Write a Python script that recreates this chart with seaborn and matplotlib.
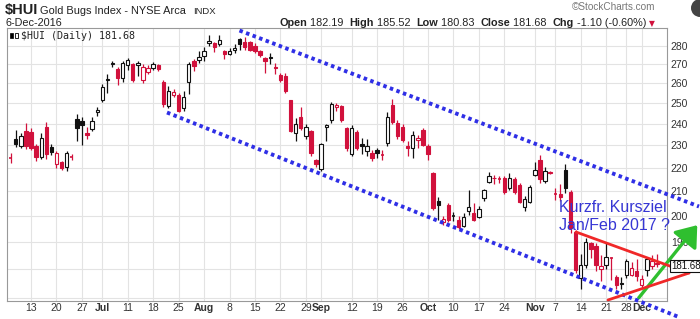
import matplotlib
matplotlib.use("Agg")
import matplotlib.pyplot as plt
import seaborn as sns
import numpy as np
import pandas as pd
from matplotlib.patches import Rectangle, FancyArrowPatch, Ellipse
from matplotlib.lines import Line2D
from matplotlib.ticker import FixedLocator, NullLocator, NullFormatter

# ---------------- data ----------------
start_date = "2016-06-07"
end_date = "2016-12-06"
holidays = ["2016-07-04", "2016-09-05", "2016-11-24"]

opens = [224.6, 233.1, 229.9, 236.5, 236.0, 229.5, 224.8, 238.5, 229.4, 221.5,
         222.5, 220.2, 225.0, 242.5, 241.5, 235.5, 237.5, 245.5, 251.8, 262.0,
         270.0, 267.5, 263.0, 269.5, 270.0, 269.5, 262.0, 266.0, 268.0, 269.5,
         261.0, 248.5, 254.0, 254.0, 247.5, 260.5, 272.0, 272.5, 274.5, 281.5,
         281.5, 281.0, 277.5, 275.5, 278.0, 284.0, 282.5, 282.0, 280.0, 277.0,
         273.5, 274.0, 268.5, 264.5, 264.0, 251.5, 235.5, 243.5, 234.5, 236.5,
         223.5, 219.7, 238.5, 242.0, 248.0, 248.5, 238.0, 226.0, 236.0, 230.8,
         227.5, 226.5, 228.0, 226.0, 231.0, 249.0, 240.5, 238.5, 229.5, 229.0,
         232.5, 237.0, 229.8, 217.8, 206.0, 197.5, 204.4, 200.2, 198.4, 196.0,
         201.8, 201.2, 199.6, 207.2, 213.8, 215.8, 215.2, 215.8, 211.5, 215.2,
         212.5, 203.5, 205.6, 216.8, 223.3, 214.5, 218.2, 209.0, 209.0, 219.2,
         209.8, 193.8, 177.0, 181.5, 189.5, 188.5, 180.0, 181.5, 184.2, 177.2,
         175.2, 178.0, 178.0, 179.3, 174.5, 179.6, 181.0, 182.19]
highs = [226.6, 237.2, 235.5, 240.2, 238.0, 230.5, 235.8, 241.0, 230.5, 227.5,
         223.0, 227.5, 226.0, 244.5, 243.5, 238.5, 243.5, 248.0, 259.5, 265.0,
         272.0, 268.5, 272.0, 273.5, 271.0, 272.0, 270.0, 269.5, 271.5, 270.0,
         262.0, 258.5, 257.0, 255.0, 256.0, 271.5, 273.0, 277.5, 279.5, 286.0,
         282.5, 286.0, 278.0, 279.0, 281.0, 284.5, 285.0, 283.0, 281.5, 278.0,
         274.0, 276.0, 271.0, 265.5, 265.5, 251.8, 243.0, 248.0, 240.0, 237.0,
         224.0, 231.0, 240.0, 250.5, 250.0, 249.0, 238.5, 239.5, 237.0, 233.5,
         233.0, 228.0, 229.0, 228.0, 245.5, 252.0, 242.0, 240.0, 232.0, 236.5,
         235.0, 238.0, 230.5, 218.0, 207.5, 200.0, 205.0, 201.5, 200.0, 201.0,
         210.5, 205.0, 204.0, 211.0, 218.3, 217.0, 216.5, 216.5, 217.8, 216.0,
         213.5, 208.0, 212.5, 222.6, 225.5, 220.5, 218.6, 211.5, 213.0, 221.5,
         210.5, 194.5, 185.4, 191.5, 190.0, 189.5, 185.0, 190.0, 184.5, 178.0,
         177.2, 183.8, 182.5, 183.5, 178.0, 184.0, 185.0, 185.52]
lows = [222.0, 229.2, 229.0, 228.5, 228.0, 222.8, 223.7, 224.0, 225.5, 220.0,
        219.0, 218.5, 223.5, 232.0, 230.0, 233.0, 236.5, 244.0, 250.5, 255.0,
        268.5, 259.0, 260.5, 267.0, 261.0, 264.0, 260.0, 265.0, 267.0, 266.5,
        248.0, 247.5, 253.0, 245.5, 246.0, 254.5, 266.5, 271.0, 272.0, 280.0,
        276.5, 280.0, 273.0, 275.0, 276.0, 278.0, 278.0, 277.5, 276.0, 274.0,
        265.5, 270.0, 265.0, 261.0, 255.0, 236.0, 232.0, 237.0, 233.0, 225.0,
        220.5, 218.6, 232.0, 240.5, 246.0, 241.0, 227.5, 225.0, 228.0, 226.0,
        225.0, 223.0, 224.5, 223.5, 229.5, 240.0, 233.0, 231.5, 225.0, 224.5,
        229.0, 229.5, 223.5, 202.5, 198.4, 196.5, 197.5, 198.0, 195.0, 195.5,
        200.4, 198.0, 199.0, 206.0, 213.3, 213.0, 213.5, 209.0, 210.5, 209.0,
        205.0, 202.0, 205.0, 216.5, 213.5, 213.3, 217.5, 206.5, 206.0, 209.5,
        193.5, 178.5, 172.9, 180.5, 184.0, 179.5, 176.0, 180.0, 176.3, 173.0,
        173.0, 177.0, 177.5, 176.0, 173.5, 177.5, 180.0, 180.83]
closes = [224.3, 230.8, 234.2, 229.5, 229.0, 224.6, 233.5, 226.0, 227.1, 226.5,
          220.0, 226.5, 224.7, 238.0, 239.5, 235.0, 241.5, 246.5, 258.3, 262.5,
          271.0, 263.0, 271.0, 272.5, 262.0, 270.5, 268.5, 268.0, 270.0, 267.5,
          249.5, 256.0, 255.5, 246.0, 253.0, 270.0, 269.0, 274.0, 277.5, 283.0,
          279.5, 283.5, 275.5, 277.0, 279.0, 281.0, 279.5, 278.0, 277.0, 275.0,
          272.0, 273.5, 268.0, 262.0, 256.0, 236.5, 240.0, 238.0, 238.5, 226.5,
          221.5, 230.7, 239.5, 249.5, 249.0, 242.0, 229.0, 238.0, 229.0, 229.5,
          229.8, 224.5, 226.5, 225.8, 243.5, 241.0, 234.5, 232.3, 229.0, 235.0,
          233.5, 230.3, 226.0, 203.2, 204.5, 198.8, 198.3, 199.9, 195.7, 199.6,
          203.6, 198.4, 202.8, 210.4, 216.4, 215.4, 215.0, 209.7, 215.7, 209.8,
          205.5, 206.8, 211.8, 219.0, 215.0, 218.5, 217.8, 208.8, 207.5, 211.4,
          195.3, 179.8, 181.6, 190.0, 187.2, 181.5, 181.2, 184.4, 183.9, 174.3,
          174.8, 183.0, 180.5, 177.5, 176.5, 183.5, 182.78, 181.68]
prev_close_before_start = 226.0

week_label_dates = ["2016-06-13", "2016-06-20", "2016-06-27", "2016-07-01", "2016-07-11",
                    "2016-07-18", "2016-07-25", "2016-08-01", "2016-08-08", "2016-08-15",
                    "2016-08-22", "2016-08-29", "2016-09-01", "2016-09-12", "2016-09-19",
                    "2016-09-26", "2016-10-03", "2016-10-10", "2016-10-17", "2016-10-24",
                    "2016-11-01", "2016-11-07", "2016-11-14", "2016-11-21", "2016-11-28",
                    "2016-12-01"]
week_labels = ["13", "20", "27", "Jul", "11", "18", "25", "Aug", "8", "15", "22", "29",
               "Sep", "12", "19", "26", "Oct", "10", "17", "24", "Nov", "7", "14", "21",
               "28", "Dec"]
month_labels = ["Jul", "Aug", "Sep", "Oct", "Nov", "Dec"]
y_ticks = [190, 200, 210, 220, 230, 240, 250, 260, 270, 280]
y_grid = [170, 180, 190, 200, 210, 220, 230, 240, 250, 260, 270, 280]

# ---------------- frame ----------------
dates = pd.bdate_range(start_date, end_date)
dates = dates[~dates.isin(pd.to_datetime(holidays))]
df = pd.DataFrame({"date": dates, "open": opens, "high": highs, "low": lows, "close": closes})
df["idx"] = np.arange(len(df))
df["prev"] = df["close"].shift(1).fillna(prev_close_before_start)

sns.set_theme(style="white")
plt.rcParams["font.family"] = ["Liberation Sans", "DejaVu Sans"]

W, H = 700, 319
fig = plt.figure(figsize=(W / 100, H / 100), dpi=100)
ax_left, ax_top, ax_right, ax_bottom = 7.3, 28.3, 666.7, 300.7
ax = fig.add_axes([ax_left / W, 1 - ax_bottom / H, (ax_right - ax_left) / W, (ax_bottom - ax_top) / H])
ax.set_yscale("log")
ax.set_ylim(169.1, 290.0)
ax.set_xlim(-0.66, 128.9)

RED = "#d1113c"
BLACK = "#111111"

# grid
pos_map = dict(zip(df["date"], df["idx"]))
tick_pos = [pos_map[pd.Timestamp(d)] for d in week_label_dates]
for yg in y_grid:
    ax.axhline(yg, color="#e3e3e3", lw=0.8, zorder=0)
for xp in tick_pos:
    ax.axvline(xp, color="#e3e3e3", lw=0.8, zorder=0)

# candles
bw = 0.66
for _, r in df.iterrows():
    col = RED if r["close"] < r["prev"] else BLACK
    hollow = r["close"] > r["open"]
    ax.vlines(r["idx"], r["low"], r["high"], color=col, lw=0.9, zorder=2)
    lo, hi = min(r["open"], r["close"]), max(r["open"], r["close"])
    if hi - lo < 0.35:
        ax.hlines(lo, r["idx"] - bw / 2, r["idx"] + bw / 2, color=col, lw=1.2, zorder=3)
    else:
        ax.add_patch(Rectangle((r["idx"] - bw / 2, lo), bw, hi - lo,
                               facecolor="white" if hollow else col,
                               edgecolor=col, lw=0.8, zorder=3))

# axes styling
ax.yaxis.tick_right()
ax.yaxis.set_major_locator(FixedLocator(y_ticks))
ax.yaxis.set_minor_locator(NullLocator())
ax.yaxis.set_minor_formatter(NullFormatter())
ax.set_yticklabels([str(v) for v in y_ticks], fontsize=7.5, color="#333333")
ax.tick_params(axis="y", length=0, pad=3)
ax.set_xticks(tick_pos)
ax.set_xticklabels(week_labels, fontsize=7.5, color="#333333")
for lab in ax.get_xticklabels():
    if lab.get_text() in month_labels:
        lab.set_fontweight("bold")
ax.tick_params(axis="x", length=0, pad=2)
for sp in ax.spines.values():
    sp.set_color("#999999")
    sp.set_linewidth(0.8)
ax.set_xlabel("")
ax.set_ylabel("")


def fp(x, y):
    return (x / W, 1 - y / H)


# ---------------- header ----------------
fig.text(*fp(5, 14), "$HUI", fontsize=10.5, fontweight="bold", va="baseline", color="#222222")
fig.text(*fp(40, 14), "Gold Bugs Index - NYSE Arca", fontsize=7.9, va="baseline", color="#222222")
fig.text(*fp(193, 14), "INDX", fontsize=6.8, va="baseline", color="#222222")
fig.text(*fp(6, 26), "6-Dec-2016", fontsize=7.8, va="baseline", color="#222222")
fig.text(*fp(572, 10), "\u00a9StockCharts.com", fontsize=7.2, va="baseline", color="#777777")

hdr = [("Open", True), (" 182.19  ", False), ("High", True), (" 185.52  ", False),
       ("Low", True), (" 180.83  ", False), ("Close", True), (" 181.68  ", False),
       ("Chg", True), (" -1.10 (-0.60%)", False)]
fig.canvas.draw()
renderer = fig.canvas.get_renderer()
xcur = 279.0
for txt, bold in hdr:
    t = fig.text(*fp(xcur, 26), txt, fontsize=7.8, va="baseline", color="#222222",
                 fontweight="bold" if bold else "normal")
    bb = t.get_window_extent(renderer=renderer)
    xcur += bb.width
fig.text(*fp(xcur + 3, 26), "\u25bc", fontsize=5.5, va="baseline", color=RED, family="DejaVu Sans")

fig.add_artist(Ellipse(fp(700, 8), 18 / W, 18 / H, transform=fig.transFigure,
                       facecolor="#444444", edgecolor="none"))

# legend text inside plot
fig.add_artist(Rectangle(fp(10, 38), 3 / W, 5 / H, transform=fig.transFigure,
                         facecolor="black", edgecolor="black", lw=0.5))
fig.add_artist(Rectangle(fp(15, 38), 3 / W, 5 / H, transform=fig.transFigure,
                         facecolor="white", edgecolor="black", lw=0.6))
fig.text(*fp(21, 39), "$HUI (Daily) 181.68", fontsize=7.2, va="baseline",
         family="DejaVu Sans Mono", color="#222222")

# last-price box on the right axis
fig.text(*fp(671, 266), "181.68", fontsize=7, va="center", ha="left", color="#111111",
         bbox=dict(boxstyle="square,pad=0.15", facecolor="white", edgecolor="#111111", lw=0.8))

# ---------------- drawn annotations ----------------
BLUE = "#2f2fe6"


def fig_line(p0, p1, **kw):
    (x0, y0), (x1, y1) = fp(*p0), fp(*p1)
    fig.add_artist(Line2D([x0, x1], [y0, y1], transform=fig.transFigure, **kw))


fig_line((239.5, 30.5), (699, 206.5), color=BLUE, lw=2.8, ls=(0, (0.9, 0.9)), solid_capstyle="butt")
fig_line((167, 112.5), (680, 317.5), color=BLUE, lw=2.8, ls=(0, (0.9, 0.9)), solid_capstyle="butt")

fig_line((576, 232), (689, 273), color="#f02828", lw=2.0)
fig_line((608, 300), (689, 273), color="#f02828", lw=2.0)

arrow = FancyArrowPatch(fp(637, 300), fp(699, 223), transform=fig.transFigure,
                        arrowstyle="-|>,head_length=6,head_width=4.5", color="#2fbf2f",
                        lw=2.4, mutation_scale=2.0)
fig.add_artist(arrow)

fig.text(*fp(559, 212), "Kurzfr. Kursziel", fontsize=11.5, color="#3636d4", va="baseline")
fig.text(*fp(559, 230), "Jan/Feb 2017 ?", fontsize=11.5, color="#3636d4", va="baseline")

fig.savefig("out.png", dpi=100)
